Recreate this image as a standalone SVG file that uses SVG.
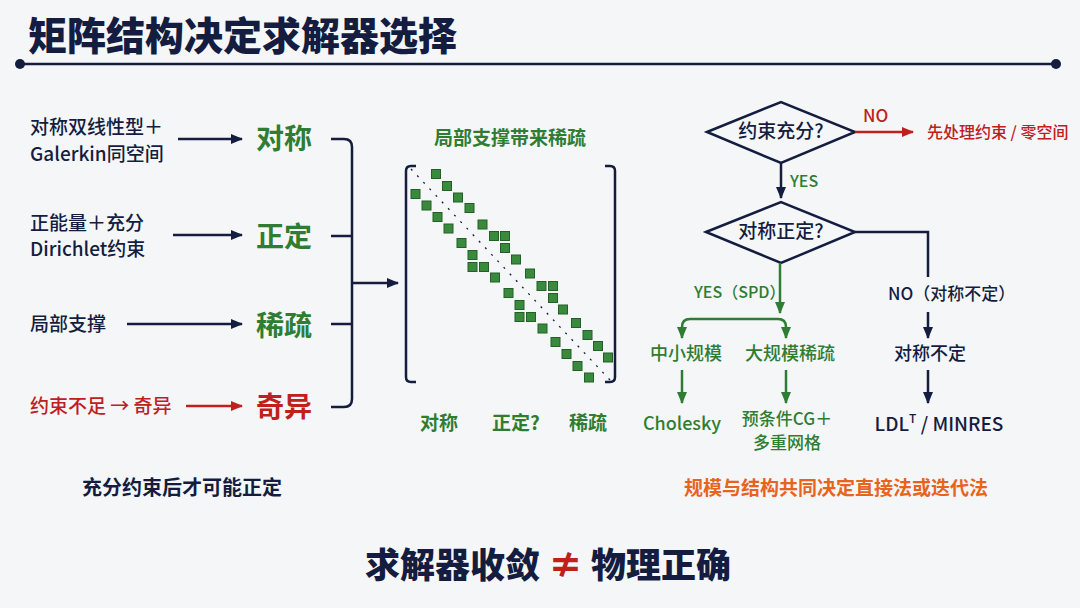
<svg xmlns="http://www.w3.org/2000/svg" width="1080" height="608" viewBox="0 0 1080 608">
<defs>
<style>
text{font-family:"Noto Sans CJK SC","Noto Sans",sans-serif;}
.navy{fill:#141d3f}
.green{fill:#2e7d32}
.red{fill:#c0201c}
.t19{font-size:19px;font-weight:500}
.big{font-size:28px;font-weight:700}
.lbl{font-size:19px;font-weight:700}
.ln{stroke:#141d3f;stroke-width:2.5;fill:none}
.lg{stroke:#2e7d32;stroke-width:2.5;fill:none}
.lr{stroke:#c0201c;stroke-width:2.5;fill:none}
.sq{fill:#3a8a3d;stroke:#245f27;stroke-width:1}
</style>
<marker id="an" viewBox="0 0 12 10" refX="11" refY="5" markerWidth="12" markerHeight="10" markerUnits="userSpaceOnUse" orient="auto"><path d="M0,0 L12,5 L0,10 Z" fill="#141d3f"/></marker>
<marker id="ag" viewBox="0 0 12 10" refX="11" refY="5" markerWidth="12" markerHeight="10" markerUnits="userSpaceOnUse" orient="auto"><path d="M0,0 L12,5 L0,10 Z" fill="#2e7d32"/></marker>
<marker id="ar" viewBox="0 0 12 10" refX="11" refY="5" markerWidth="12" markerHeight="10" markerUnits="userSpaceOnUse" orient="auto"><path d="M0,0 L12,5 L0,10 Z" fill="#c0201c"/></marker>
</defs>
<rect width="1080" height="608" fill="#f5f6f8"/>

<g id="title">
<text x="28" y="50" class="navy" font-size="39" font-weight="900">矩阵结构决定求解器选择</text>
<line x1="20" y1="64" x2="1056" y2="64" stroke="#141d3f" stroke-width="2.5"/>
<circle cx="20" cy="64" r="5" fill="#141d3f"/>
<circle cx="1056" cy="64" r="5" fill="#141d3f"/>
</g>

<g id="src1"><text x="30" y="134" class="navy t19">对称双线性型＋</text><text x="30" y="161" class="navy t19">Galerkin同空间</text></g>
<g id="src2"><text x="30" y="230" class="navy t19">正能量＋充分</text><text x="30" y="256" class="navy t19">Dirichlet约束</text></g>
<g id="src3"><text x="30" y="331" class="navy t19">局部支撑</text></g>
<g id="src4"><text x="30" y="413" class="red t19">约束不足 → 奇异</text></g>

<g id="n-sym"><text x="256" y="149" class="green big">对称</text></g>
<g id="n-pd"><text x="256" y="247" class="green big">正定</text></g>
<g id="n-sparse"><text x="256" y="336" class="green big">稀疏</text></g>
<g id="n-sing"><text x="256" y="417" class="red big">奇异</text></g>

<g id="matrix">
<text x="510" y="145" class="green lbl" text-anchor="middle">局部支撑带来稀疏</text>
<path class="ln" d="M416,166 H411 Q406,166 406,171 V377 Q406,382 411,382 H416"/>
<path class="ln" d="M605,166 H610 Q615,166 615,171 V377 Q615,382 610,382 H605"/>
<line x1="411" y1="169" x2="610" y2="380" stroke="#141d3f" stroke-width="1.3" stroke-dasharray="2 7"/>
<g>
<rect class="sq" x="431.5" y="169.5" width="9" height="9"/>
<rect class="sq" x="442.5" y="181.5" width="9" height="9"/>
<rect class="sq" x="411" y="189.5" width="9" height="9"/>
<rect class="sq" x="453.5" y="193" width="9" height="9"/>
<rect class="sq" x="422" y="201" width="9" height="9"/>
<rect class="sq" x="465" y="203.5" width="9" height="9"/>
<rect class="sq" x="433" y="212.5" width="9" height="9"/>
<rect class="sq" x="478" y="220" width="9" height="9"/>
<rect class="sq" x="444" y="224" width="9" height="9"/>
<rect class="sq" x="489.5" y="231.5" width="9" height="9"/>
<rect class="sq" x="500.5" y="231.5" width="9" height="9"/>
<rect class="sq" x="457" y="238.5" width="9" height="9"/>
<rect class="sq" x="500.5" y="243.5" width="9" height="9"/>
<rect class="sq" x="468" y="250.5" width="9" height="9"/>
<rect class="sq" x="511.5" y="255" width="9" height="9"/>
<rect class="sq" x="468" y="262.5" width="9" height="9"/>
<rect class="sq" x="479.5" y="262.5" width="9" height="9"/>
<rect class="sq" x="525.5" y="269" width="9" height="9"/>
<rect class="sq" x="490.5" y="273" width="9" height="9"/>
<rect class="sq" x="537" y="281.5" width="9" height="9"/>
<rect class="sq" x="548.5" y="281.5" width="9" height="9"/>
<rect class="sq" x="504" y="288.5" width="9" height="9"/>
<rect class="sq" x="548.5" y="293.5" width="9" height="9"/>
<rect class="sq" x="515" y="300.5" width="9" height="9"/>
<rect class="sq" x="558.5" y="305" width="9" height="9"/>
<rect class="sq" x="515" y="312.5" width="9" height="9"/>
<rect class="sq" x="526.5" y="312.5" width="9" height="9"/>
<rect class="sq" x="571.5" y="318.5" width="9" height="9"/>
<rect class="sq" x="538" y="324" width="9" height="9"/>
<rect class="sq" x="583" y="330.5" width="9" height="9"/>
<rect class="sq" x="551" y="337.5" width="9" height="9"/>
<rect class="sq" x="593.5" y="341.5" width="9" height="9"/>
<rect class="sq" x="562" y="349.5" width="9" height="9"/>
<rect class="sq" x="603.5" y="353" width="9" height="9"/>
<rect class="sq" x="573" y="361.5" width="9" height="9"/>
<rect class="sq" x="584.5" y="373" width="9" height="9"/>
</g>
<text x="439" y="430" class="green lbl" text-anchor="middle">对称</text>
<text x="516" y="430" class="green lbl" text-anchor="middle">正定?</text>
<text x="588" y="430" class="green lbl" text-anchor="middle">稀疏</text>
</g>

<g id="note-left"><text x="182" y="495" class="navy" font-size="20" font-weight="700" text-anchor="middle">充分约束后才可能正定</text></g>

<g id="d1">
<polygon points="707,132 781,102 855,132 781,163" fill="none" stroke="#141d3f" stroke-width="2.5"/>
<text x="781" y="138" class="navy t19" text-anchor="middle">约束充分?</text>
</g>
<g id="pre"><text x="927" y="138" class="red" font-size="16" font-weight="500">先处理约束 / 零空间</text></g>
<g id="d2">
<polygon points="706,232 781,202 855,232 781,263" fill="none" stroke="#141d3f" stroke-width="2.5"/>
<text x="781" y="238" class="navy t19" text-anchor="middle">对称正定?</text>
</g>
<g id="small"><text x="686" y="360" class="green" font-size="18" font-weight="500" text-anchor="middle">中小规模</text></g>
<g id="large"><text x="790" y="360" class="green" font-size="18" font-weight="500" text-anchor="middle">大规模稀疏</text></g>
<g id="chol"><text x="682" y="430" class="green" font-size="18" font-weight="500" text-anchor="middle">Cholesky</text></g>
<g id="pcg"><text x="787" y="425" class="green" font-size="17" font-weight="500" text-anchor="middle">预条件CG＋</text><text x="787" y="449" class="green" font-size="17" font-weight="500" text-anchor="middle">多重网格</text></g>
<g id="indef"><text x="930" y="360" class="navy" font-size="18" font-weight="500" text-anchor="middle">对称不定</text></g>
<g id="ldlt"><text x="939" y="431" class="navy" font-size="19" font-weight="500" text-anchor="middle">LDL<tspan font-size="12" dy="-8">T</tspan><tspan dy="8"> / MINRES</tspan></text></g>
<g id="note-right"><text x="836" y="495" fill="#e8631c" font-size="19" font-weight="700" text-anchor="middle">规模与结构共同决定直接法或迭代法</text></g>

<g id="connectors">
<line class="ln" x1="178" y1="139" x2="242" y2="139" marker-end="url(#an)"/>
<line class="ln" x1="173" y1="235" x2="242" y2="235" marker-end="url(#an)"/>
<line class="ln" x1="127" y1="324" x2="242" y2="324" marker-end="url(#an)"/>
<line class="lr" x1="186" y1="406" x2="242" y2="406" marker-end="url(#ar)"/>
<path class="ln" d="M331,139 H344 Q352,139 352,147 V399 Q352,407 344,407 H331"/>
<path class="ln" d="M331,236 H352 M331,324 H352"/>
<line class="ln" x1="352" y1="283" x2="398" y2="283" marker-end="url(#an)"/>
<line class="lr" x1="855" y1="132" x2="913" y2="132" marker-end="url(#ar)"/>
<text x="863" y="122" class="red" font-size="17" font-weight="500">NO</text>
<line class="ln" x1="781" y1="163" x2="781" y2="198" marker-end="url(#an)"/>
<text x="790" y="187" class="green" font-size="16" font-weight="500">YES</text>
<path class="ln" d="M855,232 H928 V277"/>
<text x="888" y="300" class="navy" font-size="17" font-weight="500">NO（对称不定）</text>
<line class="ln" x1="928" y1="312" x2="928" y2="338" marker-end="url(#an)"/>
<line class="ln" x1="928" y1="370" x2="928" y2="403" marker-end="url(#an)"/>
<line class="lg" x1="780" y1="263" x2="780" y2="313" marker-end="url(#ag)"/>
<text x="694" y="298" class="green" font-size="16" font-weight="500">YES（SPD）</text>
<path class="lg" d="M734,319 H690 Q682,319 682,327 V338" marker-end="url(#ag)"/>
<path class="lg" d="M734,319 H778 Q786,319 786,327 V338" marker-end="url(#ag)"/>
<line class="lg" x1="682" y1="370" x2="682" y2="403" marker-end="url(#ag)"/>
<line class="lg" x1="786" y1="370" x2="786" y2="403" marker-end="url(#ag)"/>
</g>

<g id="footer"><text x="548" y="578" class="navy" font-size="35" font-weight="900" text-anchor="middle">求解器收敛 <tspan fill="#c0201c">≠</tspan> 物理正确</text></g>
</svg>
